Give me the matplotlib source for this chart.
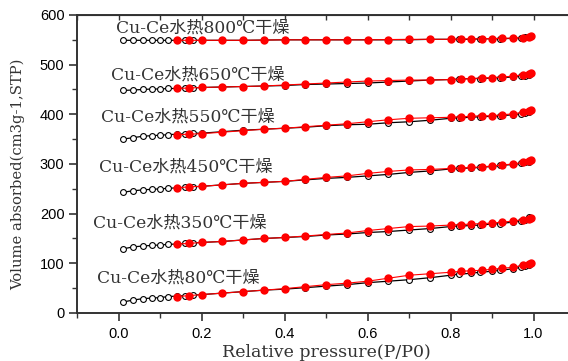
import matplotlib
matplotlib.use("Agg")
import matplotlib.pyplot as plt
from matplotlib.ticker import MultipleLocator, FormatStrFormatter

# adsorption branch (black, open) and desorption branch (red, filled)
p_ads = [0.01, 0.035, 0.06, 0.08, 0.10, 0.12, 0.14, 0.16, 0.18, 0.20, 0.25, 0.30,
         0.35, 0.40, 0.45, 0.50, 0.55, 0.60, 0.65, 0.70, 0.75, 0.80, 0.82, 0.85,
         0.87, 0.90, 0.92, 0.95, 0.97, 0.98, 0.99]
p_des = [0.14, 0.17, 0.20, 0.25, 0.30, 0.35, 0.40, 0.45, 0.50, 0.55, 0.60, 0.65,
         0.70, 0.75, 0.80, 0.825, 0.85, 0.875, 0.90, 0.925, 0.95, 0.975, 0.99, 0.995]

ads_80 = [22, 26, 29, 30, 31, 33, 34, 35, 36, 37, 40, 43, 46, 48, 51, 54, 57, 61, 64,
          67, 71, 76, 78, 80, 82, 84, 86, 89, 92, 94, 96]
des_80 = [33, 35, 37, 40, 43, 46, 49, 53, 57, 60, 64, 70, 76, 79, 82, 84, 85, 86, 88,
          90, 92, 96, 99, 101]

ads_350 = [129, 133, 135, 136, 137, 138, 139, 140, 141, 142, 144, 147, 150, 152, 154,
           157, 159, 162, 164, 167, 170, 174, 175, 176, 177, 179, 180, 183, 186, 188, 193]
des_350 = [139, 140, 142, 144, 147, 150, 152, 155, 158, 161, 166, 170, 174, 175, 177,
           178, 179, 180, 181, 183, 185, 188, 190, 191]

ads_450 = [243, 246, 248, 249, 250, 251, 252, 253, 254, 255, 258, 261, 263, 265, 268,
           271, 273, 276, 279, 283, 286, 290, 291, 292, 293, 295, 297, 299, 301, 303, 305]
des_450 = [252, 254, 255, 258, 261, 263, 265, 269, 273, 276, 281, 285, 288, 289, 291,
           292, 293, 294, 296, 298, 300, 303, 306, 309]

ads_550 = [350, 353, 356, 357, 358, 359, 360, 361, 362, 362, 365, 368, 370, 372, 374,
           377, 379, 380, 383, 385, 388, 392, 393, 394, 395, 396, 397, 399, 401, 403, 405]
des_550 = [359, 360, 361, 364, 367, 370, 372, 375, 378, 381, 385, 389, 392, 393, 394,
           395, 396, 397, 397, 399, 401, 404, 406, 408]

ads_650 = [448, 449, 450, 451, 451, 452, 452, 453, 453, 454, 455, 456, 457, 458, 460,
           461, 462, 463, 465, 467, 469, 470, 471, 472, 472, 473, 474, 475, 477, 478, 480]
des_650 = [452, 453, 454, 455, 456, 457, 459, 461, 463, 465, 467, 468, 469, 469, 470,
           471, 472, 473, 474, 475, 477, 479, 482, 483]

ads_800 = [549, 549, 549, 549, 549, 549, 549, 549, 549, 549, 549, 549, 549.5, 550, 550,
           550, 550, 550, 550, 550, 551, 551, 551, 551, 552, 552, 552, 553, 554, 555, 556]
des_800 = [549, 549, 549, 549, 549, 549.5, 550, 550, 550, 550, 550, 550.5, 551, 551,
           551, 551.5, 552, 552, 552.5, 553, 553.5, 554.5, 556, 557]

series = [(ads_80, des_80), (ads_350, des_350), (ads_450, des_450),
          (ads_550, des_550), (ads_650, des_650), (ads_800, des_800)]

labels = ["Cu-Ce水热80℃干燥", "Cu-Ce水热350℃干燥", "Cu-Ce水热450℃干燥",
          "Cu-Ce水热550℃干燥", "Cu-Ce水热650℃干燥", "Cu-Ce水热800℃干燥"]
label_xy = [(-0.053, 70), (-0.062, 181), (-0.048, 294),
            (-0.043, 395), (-0.017, 479), (-0.005, 574)]

serif_cjk = ["DejaVu Serif", "Noto Sans CJK SC"]

fig = plt.figure(figsize=(5.68, 3.61), dpi=100)
ax = fig.add_axes([0.1356, 0.133, 0.8768, 0.8255])

for ads, des in series:
    ax.plot(p_ads, ads, color="black", lw=0.9, marker="o", ms=4.2,
            mfc="white", mec="black", mew=0.8, zorder=2)
    ax.plot(p_des, des, color="red", lw=0.8, marker="o", ms=5,
            mfc="red", mec="red", zorder=3)

for txt, (x, y) in zip(labels, label_xy):
    ax.text(x, y, txt, family=serif_cjk, fontsize=12.3, color="#333333",
            ha="left", va="center")

ax.set_xlim(-0.1, 1.1)
ax.set_ylim(0, 600)
ax.xaxis.set_major_locator(MultipleLocator(0.2))
ax.xaxis.set_minor_locator(MultipleLocator(0.1))
ax.xaxis.set_major_formatter(FormatStrFormatter("%.1f"))
ax.yaxis.set_major_locator(MultipleLocator(100))
ax.yaxis.set_minor_locator(MultipleLocator(50))

for s in ax.spines.values():
    s.set_linewidth(1.4)
    s.set_color("#333333")

ax.tick_params(axis="both", which="major", direction="out", length=6, width=1.2,
               color="#333333", labelsize=10.5, pad=3)
ax.tick_params(axis="x", which="major", pad=4)
ax.tick_params(axis="both", which="minor", direction="out", length=3.5, width=1.0,
               color="#333333")
for lab in ax.get_xticklabels() + ax.get_yticklabels():
    lab.set_family("Liberation Sans")

# inward ticks along the top spine
ax_top = ax.secondary_xaxis("top")
ax_top.xaxis.set_major_locator(MultipleLocator(0.1))
ax_top.tick_params(direction="in", length=3.5, width=1.0, color="#333333",
                   labeltop=False)

ax.set_xlabel("Relative pressure(P/P0)", family=serif_cjk, fontsize=12.5,
              color="#333333")
ax.xaxis.set_label_coords(0.5, -0.105)
ax.set_ylabel("Volume absorbed(cm3g-1,STP)", family=serif_cjk, fontsize=10.6,
              color="#333333")
ax.yaxis.set_label_coords(-0.105, 0.466)

fig.savefig("out.png", dpi=100)
